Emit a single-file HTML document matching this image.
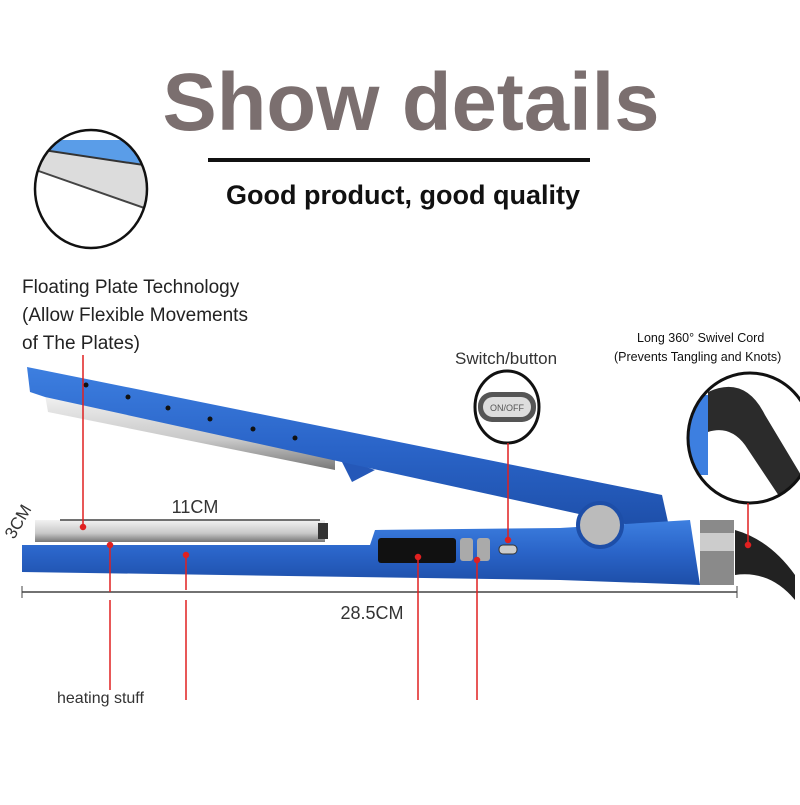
<!DOCTYPE html><html><head><style>body{margin:0;background:#fff;width:800px;height:800px;overflow:hidden}</style></head><body>
<svg width="800" height="800" viewBox="0 0 800 800" xmlns="http://www.w3.org/2000/svg" font-family="Liberation Sans, sans-serif">
<defs>
<linearGradient id="bl" x1="0" y1="0" x2="0" y2="1"><stop offset="0" stop-color="#3d7fe0"/><stop offset="0.5" stop-color="#2a64c8"/><stop offset="1" stop-color="#1d4ea8"/></linearGradient>
<linearGradient id="mt" x1="0" y1="0" x2="0" y2="1"><stop offset="0" stop-color="#f2f2f2"/><stop offset="0.6" stop-color="#c8c8c8"/><stop offset="1" stop-color="#777"/></linearGradient>
<clipPath id="c1"><ellipse cx="91" cy="189" rx="56" ry="59"/></clipPath>
<clipPath id="c2"><ellipse cx="750" cy="438" rx="62" ry="65"/></clipPath>
<clipPath id="c3"><ellipse cx="507" cy="407" rx="32" ry="36"/></clipPath>
</defs>
<text x="411" y="130" text-anchor="middle" font-size="82" font-weight="bold" fill="#7b6f6f" textLength="497" lengthAdjust="spacingAndGlyphs">Show details</text>
<rect x="208" y="158" width="382" height="4" fill="#111"/>
<text x="403" y="204" text-anchor="middle" font-size="27" font-weight="bold" fill="#111">Good product, good quality</text>
<g clip-path="url(#c1)"><polygon points="30,140 150,140 150,166 30,148" fill="#5a9de8"/><polygon points="30,148 150,166 150,210 30,168" fill="#dcdcdc"/><line x1="30" y1="168" x2="150" y2="210" stroke="#444" stroke-width="2"/><line x1="30" y1="148" x2="150" y2="166" stroke="#333" stroke-width="2"/></g>
<ellipse cx="91" cy="189" rx="56" ry="59" fill="none" stroke="#111" stroke-width="2.5"/>
<g font-size="19" fill="#222"><text x="22" y="293">Floating Plate Technology</text><text x="22" y="321">(Allow Flexible Movements</text><text x="22" y="349">of The Plates)</text></g>
<text x="455" y="364" font-size="17" fill="#333">Switch/button</text>
<text x="637" y="342" font-size="12.5" fill="#111">Long 360° Swivel Cord</text>
<text x="614" y="361" font-size="12.5" fill="#111">(Prevents Tangling and Knots)</text>
<!-- plate under top arm -->
<polygon points="45,395 335,455 335,470 48,412" fill="url(#mt)"/>
<line x1="45" y1="395" x2="335" y2="455" stroke="#222" stroke-width="3"/>
<polygon points="340,458 375,470 352,482" fill="#2558b8"/>
<!-- top arm -->
<polygon points="27,367 662,495 668,522 652,530 45,397 30,392" fill="url(#bl)"/>
<g fill="#111"><circle cx="86" cy="385" r="2.5"/><circle cx="128" cy="397" r="2.5"/><circle cx="168" cy="408" r="2.5"/><circle cx="210" cy="419" r="2.5"/><circle cx="253" cy="429" r="2.5"/><circle cx="295" cy="438" r="2.5"/></g>
<!-- bottom plate -->
<rect x="35" y="520" width="290" height="22" fill="url(#mt)"/>
<rect x="318" y="523" width="10" height="16" fill="#333"/>
<!-- body -->
<polygon points="22,545 370,545 375,530 560,528 690,520 700,585 560,580 22,572" fill="url(#bl)"/>
<rect x="378" y="538" width="78" height="25" rx="3" fill="#111"/>
<rect x="460" y="538" width="13" height="23" rx="3" fill="#aaa"/>
<rect x="477" y="538" width="13" height="23" rx="3" fill="#aaa"/>
<rect x="499" y="545" width="18" height="9" rx="4" fill="#ccc" stroke="#333"/>
<circle cx="600" cy="525" r="22" fill="#bbb" stroke="#1d4ea8" stroke-width="4"/>
<rect x="700" y="520" width="34" height="65" fill="#8a8a8a"/><rect x="700" y="533" width="34" height="18" fill="#ccc"/>
<path d="M735,530 Q770,540 795,575 L795,600 Q770,570 735,575 Z" fill="#222"/>
<!-- switch circle -->
<g clip-path="url(#c3)"><rect x="470" y="365" width="75" height="90" fill="#fff"/><rect x="478" y="392" width="58" height="30" rx="14" fill="#555"/><rect x="483" y="397" width="48" height="20" rx="10" fill="#ddd"/><text x="507" y="411" font-size="9" text-anchor="middle" fill="#555">ON/OFF</text></g>
<ellipse cx="507" cy="407" rx="32" ry="36" fill="none" stroke="#111" stroke-width="3"/>
<!-- cord circle -->
<g clip-path="url(#c2)"><rect x="685" y="370" width="130" height="140" fill="#fff"/><rect x="688" y="395" width="20" height="80" fill="#3d7fe0"/><path d="M708,392 Q745,375 765,415 L810,490 L785,505 L745,445 Q730,425 708,432 Z" fill="#2b2b2b"/></g>
<ellipse cx="750" cy="438" rx="62" ry="65" fill="none" stroke="#111" stroke-width="3"/>
<!-- dims -->
<line x1="60" y1="520" x2="320" y2="520" stroke="#444" stroke-width="1.5"/>
<text x="195" y="513" text-anchor="middle" font-size="18" fill="#333">11CM</text>
<text x="0" y="0" font-size="17" fill="#333" transform="translate(14,540) rotate(-60)">3CM</text>
<line x1="22" y1="592" x2="737" y2="592" stroke="#444" stroke-width="1.5"/>
<line x1="22" y1="586" x2="22" y2="598" stroke="#444"/><line x1="737" y1="586" x2="737" y2="598" stroke="#444"/>
<text x="372" y="619" text-anchor="middle" font-size="18" fill="#333">28.5CM</text>
<text x="57" y="703" font-size="16" fill="#333">heating stuff</text>
<!-- red leaders -->
<g stroke="#e02020" stroke-width="1.5" fill="#e02020">
<line x1="83" y1="355" x2="83" y2="527"/><circle cx="83" cy="527" r="2.5"/>
<line x1="110" y1="545" x2="110" y2="592"/><line x1="110" y1="600" x2="110" y2="690"/><circle cx="110" cy="545" r="2.5"/>
<line x1="186" y1="555" x2="186" y2="590"/><line x1="186" y1="600" x2="186" y2="700"/><circle cx="186" cy="555" r="2.5"/>
<line x1="418" y1="557" x2="418" y2="700"/><circle cx="418" cy="557" r="2.5"/>
<line x1="477" y1="560" x2="477" y2="700"/><circle cx="477" cy="560" r="2.5"/>
<line x1="508" y1="443" x2="508" y2="540"/><circle cx="508" cy="540" r="2.5"/>
<line x1="748" y1="503" x2="748" y2="545"/><circle cx="748" cy="545" r="2.5"/>
</g>
</svg></body></html>
